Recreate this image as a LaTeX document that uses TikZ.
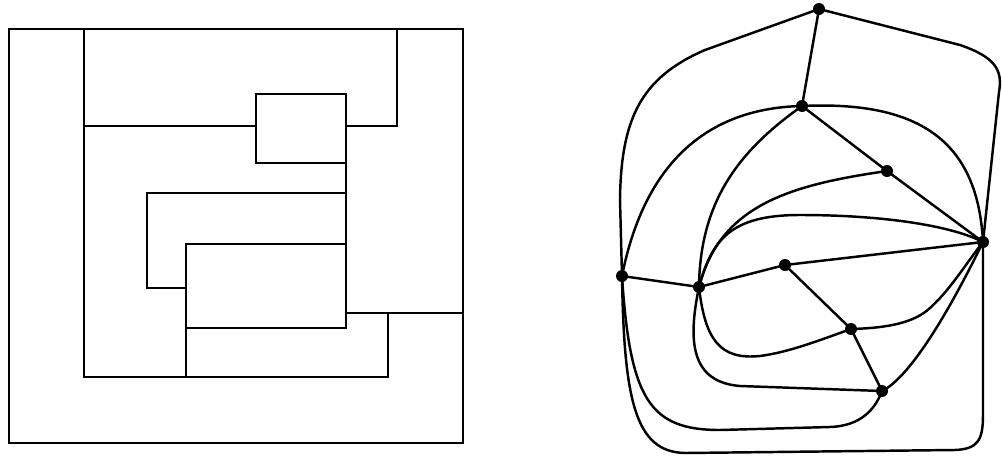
\documentclass[tikz,border=0pt]{standalone}
\begin{document}
\begin{tikzpicture}[x=0.02cm,y=-0.02cm,
  ln/.style={line width=1.5pt,line join=miter,line cap=rect},
  edge/.style={line width=1.4pt,line cap=round},
  vtx/.style={circle,fill=black,inner sep=0pt,minimum size=0.24cm}]
\useasboundingbox (0,0) rectangle (1002,457);
% ---------- left figure ----------
\draw[ln] (9,29) rectangle (463,443);
\draw[ln] (84,29) -- (84,377) -- (388,377) -- (388,313);
\draw[ln] (84,126) -- (256,126);
\draw[ln] (256,94) rectangle (346,163);
\draw[ln] (346,126) -- (397,126) -- (397,29);
\draw[ln] (346,163) -- (346,244);
\draw[ln] (186,244) rectangle (346,328);
\draw[ln] (346,193) -- (147,193) -- (147,288) -- (186,288);
\draw[ln] (186,328) -- (186,377);
\draw[ln] (346,313) -- (463,313);
% ---------- right figure ----------
\node[vtx] (A) at (819,9) {};
\node[vtx] (B) at (802,106) {};
\node[vtx] (C) at (887,171) {};
\node[vtx] (D) at (983,242) {};
\node[vtx] (E) at (622,276) {};
\node[vtx] (F) at (699,287) {};
\node[vtx] (G) at (785,265) {};
\node[vtx] (H) at (851,329) {};
\node[vtx] (I) at (882,391) {};
\draw[edge] (A.center) -- (B.center);
\draw[edge] (B.center) -- (C.center) -- (D.center);
\draw[edge] (E.center) -- (F.center) -- (G.center) -- (D.center);
\draw[edge] (G.center) -- (H.center) -- (I.center);
% outer curves
\draw[edge] (A.center) -- (705,50) .. controls (640,78) and (621,120) .. (620,200) -- (E.center);
\draw[edge] (A.center) -- (960,45) .. controls (995,57) and (1003,70) .. (999,92) -- (D.center);
\draw[edge] (E.center) .. controls (624,400) and (635,452) .. (685,453) -- (955,450) .. controls (978,449) and (983,440) .. (983,415) -- (D.center);
\draw[edge] (E.center) .. controls (630,400) and (650,430) .. (720,430) -- (830,427) .. controls (860,426) and (875,410) .. (I.center);
% inner curves
\draw[edge] (B.center) .. controls (710,108) and (645,160) .. (E.center);
\draw[edge] (B.center) .. controls (930,100) and (978,150) .. (D.center);
\draw[edge] (B.center) .. controls (740,150) and (700,200) .. (F.center);
\draw[edge] (C.center) .. controls (790,185) and (720,205) .. (F.center);
\draw[edge] (F.center) .. controls (712,240) and (730,215) .. (800,215) .. controls (880,215) and (950,225) .. (D.center);
\draw[edge] (F.center) .. controls (705,340) and (720,360) .. (760,356) .. controls (790,352) and (820,340) .. (H.center);
\draw[edge] (H.center) .. controls (890,328) and (915,322) .. (930,308) .. controls (950,290) and (965,265) .. (D.center);
\draw[edge] (F.center) .. controls (688,340) and (690,382) .. (740,386) -- (I.center);
\draw[edge] (I.center) .. controls (905,380) and (940,330) .. (D.center);
\end{tikzpicture}
\end{document}
